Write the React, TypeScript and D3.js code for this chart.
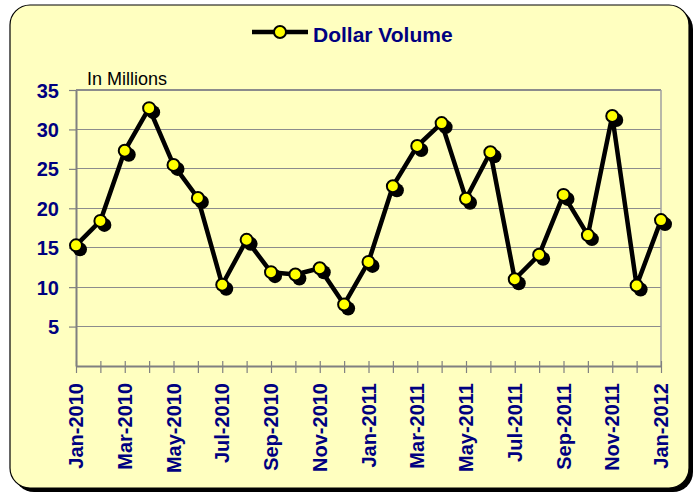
import * as d3 from "d3";
import { useEffect, useRef } from "react";

const months = [
  "Jan-2010", "Feb-2010", "Mar-2010", "Apr-2010", "May-2010", "Jun-2010",
  "Jul-2010", "Aug-2010", "Sep-2010", "Oct-2010", "Nov-2010", "Dec-2010",
  "Jan-2011", "Feb-2011", "Mar-2011", "Apr-2011", "May-2011", "Jun-2011",
  "Jul-2011", "Aug-2011", "Sep-2011", "Oct-2011", "Nov-2011", "Dec-2011",
  "Jan-2012",
];
const dollarVolume = [
  15.3, 18.4, 27.3, 32.7, 25.5, 21.3, 10.3, 16.0, 11.9, 11.6, 12.4, 7.8,
  13.2, 22.8, 27.9, 30.8, 21.2, 27.1, 11.0, 14.1, 21.7, 16.6, 31.7, 10.2,
  18.5,
];
const yTicks = [5, 10, 15, 20, 25, 30, 35];

export default function App() {
  const svgRef = useRef<SVGSVGElement | null>(null);

  useEffect(() => {
    if (!svgRef.current) return;
    const svg = d3.select(svgRef.current);
    svg.selectAll("*").remove();

    const width = 697;
    const height = 494;
    const margin = { top: 90, right: 36, bottom: 128, left: 76 };
    const font = "'Liberation Sans', Arial, sans-serif";
    const navy = "#000080";
    const bg = "#FFFFC0";

    svg.attr("width", width).attr("height", height);

    // frame with shadow
    svg
      .append("rect")
      .attr("x", 14)
      .attr("y", 9)
      .attr("width", 679)
      .attr("height", 483)
      .attr("rx", 20)
      .attr("fill", "#000");
    svg
      .append("rect")
      .attr("x", 10)
      .attr("y", 5)
      .attr("width", 679)
      .attr("height", 483)
      .attr("rx", 20)
      .attr("fill", bg)
      .attr("stroke", "#000")
      .attr("stroke-width", 1.2);

    const x = d3
      .scalePoint<string>()
      .domain(months)
      .range([margin.left, width - margin.right]);

    const y = d3
      .scaleLinear()
      .domain([0, 35])
      .range([height - margin.bottom, margin.top]);

    // grid
    svg
      .append("g")
      .selectAll("line")
      .data(yTicks)
      .join("line")
      .attr("x1", margin.left)
      .attr("x2", width - margin.right)
      .attr("y1", (d) => y(d))
      .attr("y2", (d) => y(d))
      .attr("stroke", "#8c8c8c")
      .attr("stroke-width", 1.2)
      .attr("shape-rendering", "crispEdges");

    // right border of plot area
    svg
      .append("line")
      .attr("x1", width - margin.right)
      .attr("x2", width - margin.right)
      .attr("y1", y(35))
      .attr("y2", y(0))
      .attr("stroke", "#a0a0a0")
      .attr("stroke-width", 1.5);

    // y axis
    const yAxis = svg
      .append("g")
      .attr("transform", `translate(${margin.left},0)`)
      .call(
        d3
          .axisLeft(y)
          .tickValues(yTicks)
          .tickSize(7)
          .tickPadding(10)
          .tickSizeOuter(0)
      );
    yAxis.select(".domain").attr("stroke", "#808080").attr("stroke-width", 2);
    yAxis.selectAll(".tick line").attr("stroke", "#808080").attr("stroke-width", 1.2);
    yAxis
      .selectAll(".tick text")
      .attr("fill", navy)
      .attr("font-family", font)
      .attr("font-weight", "bold")
      .attr("font-size", 20)
      .attr("dy", "0.35em");

    // x axis
    const xAxis = svg
      .append("g")
      .attr("transform", `translate(0,${y(0)})`)
      .call(d3.axisBottom(x).tickSize(7).tickSizeOuter(0).tickFormat(() => ""));
    xAxis.select(".domain").attr("stroke", "#808080").attr("stroke-width", 2);
    xAxis
      .selectAll(".tick line")
      .attr("y1", -5)
      .attr("stroke", "#808080")
      .attr("stroke-width", 1.2);

    // x labels (every other month, rotated)
    svg
      .append("g")
      .selectAll("text")
      .data(months.filter((_, i) => i % 2 === 0))
      .join("text")
      .attr("transform", (d) => `translate(${x(d)! + 7},${y(0) + 17}) rotate(-90)`)
      .attr("text-anchor", "end")
      .attr("fill", navy)
      .attr("font-family", font)
      .attr("font-weight", "bold")
      .attr("font-size", 20)
      .text((d) => d);

    // "In Millions"
    svg
      .append("text")
      .attr("x", 87)
      .attr("y", 85)
      .attr("font-family", font)
      .attr("font-size", 18)
      .attr("fill", "#000")
      .text("In Millions");

    // line
    const line = d3
      .line<number>()
      .x((_, i) => x(months[i])!)
      .y((d) => y(d));

    svg
      .append("path")
      .datum(dollarVolume)
      .attr("d", line)
      .attr("fill", "none")
      .attr("stroke", "#000")
      .attr("stroke-width", 4.5)
      .attr("stroke-linejoin", "round");

    // marker shadows
    svg
      .append("g")
      .selectAll("circle")
      .data(dollarVolume)
      .join("circle")
      .attr("cx", (_, i) => x(months[i])! + 4)
      .attr("cy", (d) => y(d) + 4)
      .attr("r", 7)
      .attr("fill", "#000");

    // markers
    svg
      .append("g")
      .selectAll("circle")
      .data(dollarVolume)
      .join("circle")
      .attr("cx", (_, i) => x(months[i])!)
      .attr("cy", (d) => y(d))
      .attr("r", 6)
      .attr("fill", "#FFFF00")
      .attr("stroke", "#000")
      .attr("stroke-width", 2);

    // legend
    const legend = svg.append("g").attr("transform", "translate(252,32)");
    legend
      .append("line")
      .attr("x1", 0)
      .attr("x2", 56)
      .attr("stroke", "#000")
      .attr("stroke-width", 4.5);
    legend
      .append("circle")
      .attr("cx", 28)
      .attr("r", 6)
      .attr("fill", "#FFFF00")
      .attr("stroke", "#000")
      .attr("stroke-width", 2);
    legend
      .append("text")
      .attr("x", 61)
      .attr("y", 10)
      .attr("fill", navy)
      .attr("font-family", font)
      .attr("font-weight", "bold")
      .attr("font-size", 21)
      .text("Dollar Volume");
  }, []);

  return (
    <svg
      ref={svgRef}
      style={{ position: "absolute", left: 0, top: 0, display: "block" }}
    ></svg>
  );
}
